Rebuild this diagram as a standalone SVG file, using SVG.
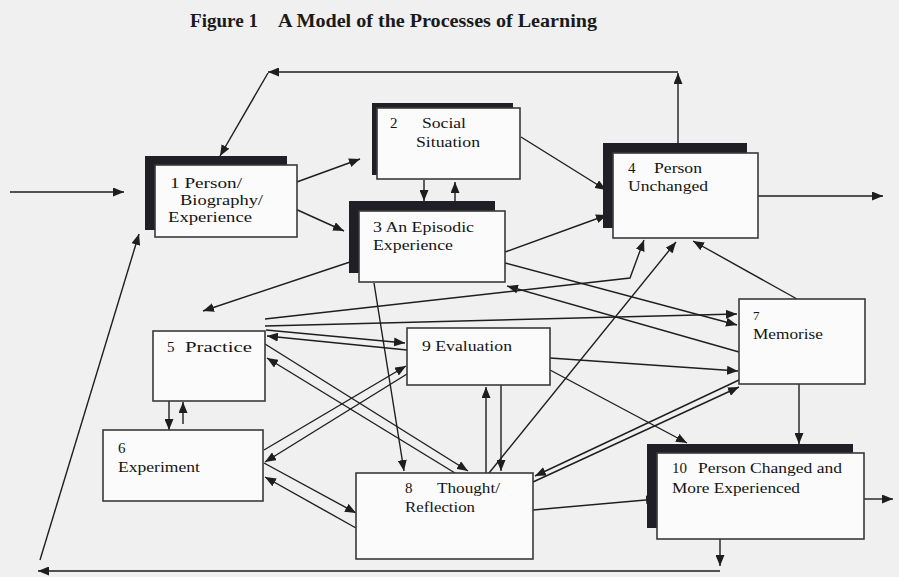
<svg xmlns="http://www.w3.org/2000/svg" width="899" height="577" viewBox="0 0 899 577">
  <style>
    .bg { fill: #f0f0f0; }
    .shadow { fill: #1f1f25; }
    .box { fill: #fbfbfb; stroke: #3a3a3a; stroke-width: 1.6; }
    .lbl { font-family: "Liberation Serif", "Times New Roman", serif; font-size: 15px; fill: #141414; }
    .title { font-family: "Liberation Serif", "Times New Roman", serif; font-size: 18px; font-weight: bold; fill: #1a1a1a; }
    .conn { stroke: #1e1e1e; stroke-width: 1.4; fill: none; marker-end: url(#ah); }
  </style>
  <defs>
    <marker id="ah" viewBox="0 0 11 9" markerWidth="11" markerHeight="9" refX="11" refY="4.5" orient="auto" markerUnits="userSpaceOnUse">
      <path d="M0,0 L11,4.5 L0,9 z" fill="#1e1e1e"/>
    </marker>
  </defs>

  <rect class="bg" x="0" y="0" width="899" height="577"/>

  <!-- heading -->
  <text class="title" x="190" y="27" textLength="68" lengthAdjust="spacingAndGlyphs">Figure 1</text>
  <text class="title" x="278" y="27" textLength="319" lengthAdjust="spacingAndGlyphs">A Model of the Processes of Learning</text>

  <!-- connectors -->
  <g id="connectors">
    <!-- entry and exits -->
    <path class="conn" d="M10,192 H124"/>
    <path class="conn" d="M758,196 H883"/>
    <path class="conn" d="M864,499 H893"/>
    <!-- top feedback loop from 4 back to 1 -->
    <path class="conn" d="M678,143 V73"/>
    <path class="conn" d="M678,72 H268"/>
    <path class="conn" d="M268,73 L220,156"/>
    <!-- bottom loop from 10 back to 1 -->
    <path class="conn" d="M720,539 V566"/>
    <path class="conn" d="M720,571 H38"/>
    <path class="conn" d="M40,560 L139,234"/>
    <!-- from 1 -->
    <path class="conn" d="M283,187 L360,159"/>
    <path class="conn" d="M282,203 L344,231"/>
    <!-- 2 and 3 -->
    <path class="conn" d="M424,180 V201"/>
    <path class="conn" d="M455,201 V182"/>
    <path class="conn" d="M521,137 L606,190"/>
    <!-- from 3 -->
    <path class="conn" d="M505,252 L607,215"/>
    <path class="conn" d="M505,263 L737,325"/>
    <path class="conn" d="M374,283 L404,471"/>
    <path class="conn" d="M350,262 L203,311"/>
    <!-- from 5 -->
    <path class="conn" d="M265,326 L737,314"/>
    <path class="conn" d="M265,319 L630,278 L644,240"/>
    <path class="conn" d="M266,330 L405,343"/>
    <path class="conn" d="M265,344 L468,471"/>
    <path class="conn" d="M169,401 V430"/>
    <!-- from 6 -->
    <path class="conn" d="M183,424 V402"/>
    <path class="conn" d="M264,450 L406,366"/>
    <path class="conn" d="M264,463 L356,513"/>
    <!-- from 7 -->
    <path class="conn" d="M739,352 L507,286"/>
    <path class="conn" d="M797,299 L693,241"/>
    <path class="conn" d="M739,380 L535,476"/>
    <path class="conn" d="M799,384 V444"/>
    <!-- from 8 -->
    <path class="conn" d="M489,473 L676,242"/>
    <path class="conn" d="M455,473 L267,358"/>
    <path class="conn" d="M356,528 L265,477"/>
    <path class="conn" d="M486,473 V387"/>
    <path class="conn" d="M533,482 L739,387"/>
    <path class="conn" d="M533,510 L657,499"/>
    <!-- from 9 -->
    <path class="conn" d="M407,350 L267,336"/>
    <path class="conn" d="M407,374 L265,462"/>
    <path class="conn" d="M501,385 V471"/>
    <path class="conn" d="M550,358 L738,371"/>
    <path class="conn" d="M550,370 L687,443"/>
  </g>

  <!-- nodes -->
  <g id="node1">
    <rect class="shadow" x="145" y="156" width="142" height="74"/>
    <rect class="box" x="155" y="165" width="142" height="72"/>
    <text class="lbl" x="170" y="188" textLength="72" lengthAdjust="spacingAndGlyphs">1 Person/</text>
    <text class="lbl" x="180" y="205" textLength="83" lengthAdjust="spacingAndGlyphs">Biography/</text>
    <text class="lbl" x="168" y="222" textLength="84" lengthAdjust="spacingAndGlyphs">Experience</text>
  </g>

  <g id="node2">
    <rect class="shadow" x="372" y="103" width="141" height="72"/>
    <rect class="box" x="377" y="108" width="143" height="71"/>
    <text class="lbl" x="390" y="128">2</text>
    <text class="lbl" x="422" y="128" textLength="44" lengthAdjust="spacingAndGlyphs">Social</text>
    <text class="lbl" x="416" y="147" textLength="64" lengthAdjust="spacingAndGlyphs">Situation</text>
  </g>

  <g id="node3">
    <rect class="shadow" x="349" y="201" width="146" height="72"/>
    <rect class="box" x="359" y="211" width="146" height="71"/>
    <text class="lbl" x="373" y="232" textLength="101" lengthAdjust="spacingAndGlyphs">3 An Episodic</text>
    <text class="lbl" x="373" y="250" textLength="80" lengthAdjust="spacingAndGlyphs">Experience</text>
  </g>

  <g id="node4">
    <rect class="shadow" x="603" y="143" width="144" height="85"/>
    <rect class="box" x="613" y="153" width="145" height="85"/>
    <text class="lbl" x="628" y="173">4</text>
    <text class="lbl" x="654" y="173" textLength="48" lengthAdjust="spacingAndGlyphs">Person</text>
    <text class="lbl" x="628" y="191" textLength="80" lengthAdjust="spacingAndGlyphs">Unchanged</text>
  </g>

  <g id="node5">
    <rect class="box" x="153" y="331" width="112" height="70"/>
    <text class="lbl" x="167" y="352">5</text>
    <text class="lbl" x="185" y="352" textLength="67" lengthAdjust="spacingAndGlyphs">Practice</text>
  </g>

  <g id="node6">
    <rect class="box" x="103" y="430" width="160" height="71"/>
    <text class="lbl" x="118" y="453">6</text>
    <text class="lbl" x="118" y="472" textLength="82" lengthAdjust="spacingAndGlyphs">Experiment</text>
  </g>

  <g id="node7">
    <rect class="box" x="739" y="299" width="126" height="85"/>
    <text class="lbl" x="753" y="320" style="font-size:13px">7</text>
    <text class="lbl" x="753" y="339" textLength="70" lengthAdjust="spacingAndGlyphs">Memorise</text>
  </g>

  <g id="node8">
    <rect class="box" x="356" y="473" width="177" height="86"/>
    <text class="lbl" x="405" y="493">8</text>
    <text class="lbl" x="437" y="493" textLength="63" lengthAdjust="spacingAndGlyphs">Thought/</text>
    <text class="lbl" x="405" y="512" textLength="70" lengthAdjust="spacingAndGlyphs">Reflection</text>
  </g>

  <g id="node9">
    <rect class="box" x="407" y="328" width="143" height="57"/>
    <text class="lbl" x="422" y="351" textLength="90" lengthAdjust="spacingAndGlyphs">9 Evaluation</text>
  </g>

  <g id="node10">
    <rect class="shadow" x="647" y="444" width="206" height="84"/>
    <rect class="box" x="657" y="453" width="207" height="86"/>
    <text class="lbl" x="672" y="473">10</text>
    <text class="lbl" x="698" y="473" textLength="144" lengthAdjust="spacingAndGlyphs">Person Changed and</text>
    <text class="lbl" x="672" y="493" textLength="128" lengthAdjust="spacingAndGlyphs">More Experienced</text>
  </g>
</svg>
